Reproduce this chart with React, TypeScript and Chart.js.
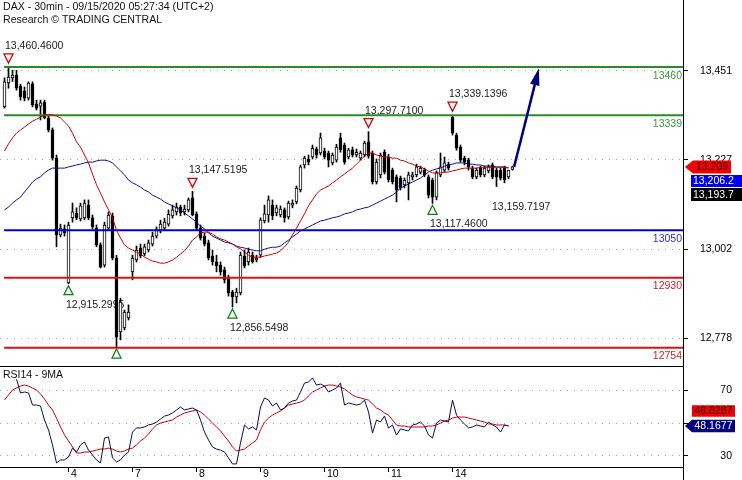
import React, { useEffect, useRef } from 'react';
import { Chart, registerables } from 'chart.js';

Chart.register(...registerables);

// ---------- data ----------
const TITLE = 'DAX - 30min - 09/15/2020 05:27:34 (UTC+2)';
const SUBTITLE = 'Research © TRADING CENTRAL';
const RSI_TITLE = 'RSI14 - 9MA';

const DAY_TICKS = [16, 32, 48, 64, 80, 96, 112];
const DAY_LABELS = ['4', '7', '8', '9', '10', '11', '14'];
const PRICE_TICKS = [12778, 13002, 13227, 13451];
const RSI_TICKS = [30, 50, 70];

const OPEN = [
  13360, 13420, 13433, 13440, 13412, 13400, 13382, 13418, 13367, 13362,
  13372, 13332, 13302, 13231, 13038, 13053, 12917, 13081, 13093, 13078,
  13081, 13113, 13081, 13055, 13013, 12962, 13055, 13086, 12980, 12794,
  12804, 12829, 12945, 12975, 13005, 12990, 13000, 13015, 13035, 13048,
  13055, 13065, 13086, 13096, 13108, 13096, 13101, 13131, 13091, 13055,
  13035, 13018, 12985, 12970, 12962, 12950, 12930, 12894, 12882, 12892,
  12985, 12970, 12987, 12975, 12987, 13073, 13088, 13113, 13093, 13088,
  13101, 13083, 13113, 13121, 13151, 13214, 13229, 13234, 13254, 13244,
  13249, 13244, 13219, 13226, 13282, 13264, 13234, 13252, 13239, 13231,
  13239, 13272, 13244, 13171, 13189, 13246, 13234, 13201, 13184, 13181,
  13164, 13169, 13184, 13189, 13196, 13201, 13184, 13176, 13133, 13189,
  13201, 13216, 13334, 13289, 13259, 13231, 13226, 13206, 13184, 13206,
  13189, 13199, 13214, 13201, 13201, 13206, 13184, 13203,
];
const HIGH = [
  13433, 13460.46, 13452, 13452, 13417, 13410, 13423, 13423, 13377, 13377,
  13377, 13337, 13307, 13239, 13065, 13063, 13070, 13118, 13106, 13118,
  13126, 13126, 13088, 13063, 13018, 13070, 13096, 13093, 12987, 12879,
  12849, 12862, 12987, 13010, 13015, 13015, 13025, 13045, 13058, 13075,
  13080, 13101, 13113, 13118, 13113, 13113, 13131, 13147.52, 13096, 13063,
  13043, 13025, 13000, 12987, 12970, 12957, 12937, 12899, 12904, 12995,
  13000, 13005, 12995, 12987, 13081, 13113, 13136, 13126, 13113, 13111,
  13106, 13123, 13126, 13161, 13214, 13236, 13239, 13264, 13259, 13294,
  13256, 13249, 13244, 13266, 13294, 13269, 13256, 13259, 13254, 13249,
  13274, 13297.71, 13249, 13229, 13244, 13252, 13241, 13206, 13189, 13186,
  13181, 13196, 13196, 13216, 13211, 13206, 13189, 13181, 13199, 13244,
  13234, 13221, 13339.14, 13294, 13264, 13236, 13231, 13211, 13206, 13211,
  13211, 13214, 13219, 13206, 13206, 13211, 13201, 13211,
];
const LOW = [
  13357, 13407, 13424, 13402, 13377, 13375, 13377, 13360, 13352, 13327,
  13330, 13297, 13226, 13008, 13033, 13035, 12915.3, 13070, 13076, 13073,
  13076, 13076, 13053, 13008, 12955, 12957, 13050, 12975, 12756, 12774,
  12799, 12824, 12925, 12970, 12980, 12985, 12995, 13010, 13030, 13043,
  13050, 13060, 13080, 13088, 13086, 13088, 13096, 13086, 13050, 13025,
  13010, 12975, 12962, 12945, 12937, 12917, 12884, 12856.55, 12867, 12887,
  12955, 12962, 12967, 12970, 12982, 13068, 13070, 13076, 13086, 13083,
  13070, 13078, 13106, 13116, 13146, 13206, 13214, 13229, 13231, 13239,
  13229, 13209, 13214, 13221, 13246, 13216, 13229, 13234, 13234, 13226,
  13234, 13231, 13166, 13166, 13181, 13191, 13171, 13166, 13121, 13151,
  13156, 13126, 13176, 13184, 13191, 13184, 13131, 13117.46, 13126, 13184,
  13196, 13201, 13289, 13251, 13221, 13214, 13201, 13179, 13179, 13184,
  13184, 13194, 13179, 13159.72, 13176, 13169, 13179, 13201,
];
const CLOSE = [
  13423, 13435, 13440, 13407, 13385, 13382, 13420, 13365, 13357, 13370,
  13332, 13302, 13231, 13038, 13055, 13043, 13063, 13096, 13081, 13111,
  13118, 13081, 13058, 13013, 12957, 13063, 13088, 12980, 12781, 12869,
  12844, 12844, 12980, 13000, 12985, 13008, 13018, 13035, 13050, 13065,
  13070, 13090, 13101, 13108, 13093, 13103, 13126, 13088, 13055, 13030,
  13015, 12980, 12970, 12960, 12945, 12925, 12892, 12882, 12894, 12987,
  12960, 12995, 12970, 12980, 13076, 13091, 13126, 13086, 13106, 13103,
  13081, 13118, 13118, 13156, 13209, 13231, 13221, 13256, 13239, 13282,
  13234, 13226, 13239, 13259, 13252, 13221, 13252, 13239, 13246, 13244,
  13269, 13236, 13171, 13221, 13239, 13196, 13176, 13171, 13151, 13156,
  13176, 13189, 13189, 13209, 13206, 13189, 13138, 13133, 13194, 13209,
  13219, 13206, 13294, 13256, 13226, 13221, 13209, 13184, 13201, 13189,
  13206, 13209, 13184, 13184, 13181, 13176, 13201, 13209,
];

const MA_RED = [
  13249, 13267, 13282, 13294, 13302, 13309, 13317, 13324, 13329, 13334,
  13340, 13340, 13340, 13337, 13332, 13322, 13312, 13294, 13272, 13259,
  13239, 13219, 13191, 13164, 13143, 13121, 13101, 13081, 13050, 13030,
  13013, 13005, 13000, 12995, 12990, 12982, 12977, 12972, 12970, 12967,
  12967, 12970, 12975, 12982, 12990, 12998, 13010, 13025, 13033, 13043,
  13045, 13045, 13040, 13033, 13028, 13025, 13020, 13015, 13008, 13003,
  12995, 12987, 12982, 12982, 12982, 12985, 12987, 12990, 12992, 12998,
  13008, 13020, 13038, 13055, 13073, 13091, 13111, 13126, 13141, 13151,
  13156, 13161, 13169, 13176, 13184, 13191, 13199, 13206, 13216, 13226,
  13236, 13244, 13244, 13239, 13236, 13234, 13234, 13231, 13231, 13226,
  13224, 13219, 13216, 13211, 13209, 13204, 13199, 13194, 13194, 13194,
  13196, 13196, 13199, 13201, 13204, 13206, 13206, 13206, 13206, 13208,
  13208, 13208, 13208, 13208, 13208, 13208, 13208,
];
const MA_BLUE = [
  13101, 13108, 13118, 13126, 13133, 13146, 13158, 13171, 13179, 13184,
  13194, 13201, 13206, 13206, 13206, 13206, 13209, 13211, 13214, 13216,
  13219, 13221, 13221, 13224, 13226, 13226, 13224, 13219, 13209, 13199,
  13189, 13176, 13169, 13164, 13158, 13151, 13146, 13138, 13133, 13128,
  13121, 13116, 13111, 13106, 13101, 13093, 13086, 13078, 13070, 13060,
  13053, 13043, 13035, 13030, 13025, 13020, 13018, 13015, 13010, 13007,
  13005, 13002, 13000, 12998, 12998, 13002, 13005, 13007, 13007, 13010,
  13018, 13025, 13033, 13040, 13048, 13053, 13058, 13063, 13068, 13073,
  13075, 13078, 13081, 13083, 13086, 13091, 13093, 13096, 13101, 13103,
  13106, 13108, 13113, 13118, 13123, 13128, 13133, 13138, 13146, 13156,
  13161, 13166, 13171, 13176, 13181, 13189, 13196, 13201, 13204, 13206,
  13211, 13214, 13216, 13219, 13219, 13219, 13216, 13216, 13214, 13214,
  13211, 13211, 13211, 13209, 13209, 13209, 13206,
];

const RSI = [
  null, null, null, 76.5, 68.2, 68.8, 68.2, 60.9, 60.9, 60.3,
  51.8, 45.8, 36.7, 25.8, 27.6, 27.6, 29.4, 34.8, 32.4, 36.7,
  38.5, 33.6, 30.6, 27.6, 25.8, 40.9, 41.5, 28.8, 26.4, 27.6,
  30.6, 32.4, 44.5, 47.0, 47.0, 47.6, 48.8, 49.4, 50.6, 52.4,
  54.2, 54.8, 56.1, 57.9, 59.7, 57.9, 58.5, 59.1, 57.9, 51.8,
  44.5, 39.7, 35.5, 34.2, 33.6, 32.4, 28.8, 25.2, 25.2, 37.9,
  48.8, 46.4, 47.6, 45.8, 59.7, 65.2, 63.9, 60.3, 62.1, 57.9,
  59.1, 62.1, 63.3, 63.9, 68.8, 74.2, 74.8, 77.3, 73.0, 73.6,
  72.4, 68.8, 70.0, 71.2, 74.2, 60.9, 62.1, 61.5, 60.9, 61.5,
  63.9, 56.7, 43.9, 51.8, 50.6, 54.2, 47.0, 48.8, 42.7, 46.4,
  45.8, 45.2, 48.8, 49.4, 50.6, 48.2, 42.7, 40.9, 50.0, 51.8,
  51.2, 50.6, 63.9, 54.8, 51.8, 49.4, 47.0, 47.6, 48.8, 48.2,
  47.6, 50.6, 48.8, 47.6, 44.5, 48.8, 48.2,
];
const RSI_MA = [
  63.9, 67.0, 70.0, 71.2, 72.4, 73.0, 72.4, 71.2, 70.0, 67.6,
  64.5, 60.9, 57.9, 53.0, 47.6, 42.7, 39.1, 35.5, 31.8, 31.8,
  32.4, 32.4, 33.0, 33.6, 34.2, 34.2, 34.8, 34.2, 33.0, 32.4,
  33.0, 34.2, 34.8, 36.7, 39.1, 40.9, 43.3, 46.4, 48.8, 50.0,
  50.6, 51.2, 51.8, 53.6, 54.8, 56.1, 56.7, 57.3, 57.9, 56.7,
  54.8, 52.4, 50.0, 47.6, 45.2, 42.1, 39.1, 35.5, 33.0, 33.6,
  34.2, 36.1, 37.9, 39.7, 45.8, 50.6, 53.0, 54.8, 56.1, 57.3,
  59.1, 60.9, 61.5, 62.1, 62.7, 63.9, 66.4, 68.8, 70.0, 71.2,
  72.4, 73.0, 73.0, 72.4, 71.8, 70.6, 68.8, 67.0, 65.8, 65.2,
  64.5, 63.9, 61.5, 59.1, 57.9, 56.1, 54.8, 51.8, 48.8, 48.2,
  48.2, 47.6, 47.6, 47.6, 47.6, 47.6, 48.2, 48.2, 48.8, 50.0,
  51.2, 51.8, 53.0, 53.6, 53.6, 53.6, 53.0, 52.4, 51.8, 51.2,
  50.6, 49.4, 49.4, 48.8, 48.8, 48.8, 48.2,
];

const LEVELS = [13460, 13339, 13050, 12930, 12754];

const HIGH_MARK_IDX = [1, 47, 91, 112];
const HIGH_MARK_VAL = [13460.46, 13147.5195, 13297.71, 13339.1396];
const HIGH_MARK_TEXT = ['13,460.4600', '13,147.5195', '13,297.7100', '13,339.1396'];

const LOW_MARK_IDX = [16, 28, 57, 107];
const LOW_MARK_VAL = [12915.2995, 12756, 12856.5498, 13117.46];
const LOW_MARK_TEXT = ['12,915.2995', '', '12,856.5498', '13,117.4600'];

const LOW_NOTE_IDX = [123];
const LOW_NOTE_VAL = [13159.7197];
const LOW_NOTE_TEXT = ['13,159.7197'];

const ARROW_X = [127.4, 133.6];
const ARROW_Y = [13209, 13457];

const LAST_PRICE = 13209;
const LAST_PRICE_TEXT = '13,209';
const MA_BLUE_LAST_TEXT = '13,206.2';
const MA_RED_LAST_TEXT = '13,193.7';
const RSI_LAST = 48.1677;
const RSI_LAST_TEXT = '48.1677';
const RSI_MA_LAST_TEXT = '48.8287';

// ---------- view constants ----------
const X_MIN = -1.125;
const X_MAX = 169.625;
const LEVEL_START = -0.1;
const Y_MIN = 12708.3;
const Y_MAX = 13628.8;
const RSI_MIN = 23.33;
const RSI_MAX = 84.55;
const FONT = '"Liberation Sans", Arial, Helvetica, sans-serif';

export default function App() {
  const ref = useRef<HTMLCanvasElement | null>(null);

  useEffect(() => {
    const canvas = ref.current;
    if (!canvas) return;

    const idx = OPEN.map((_, i) => i);
    const wicks = idx.map((i) => ({ x: i, y: [LOW[i], HIGH[i]] }));
    const bodies = idx.map((i) => ({ x: i, y: [OPEN[i], CLOSE[i]] }));
    const bodyColors = idx.map((i) => (CLOSE[i] >= OPEN[i] ? '#ffffff' : '#000000'));
    const series = (arr: (number | null)[]) => arr.map((v, i) => ({ x: i, y: v }));

    const levelLine = ['#2b8a2b', '#2b8a2b', '#0000d4', '#e01010', '#e01010'];
    const levelText = ['#3c963c', '#3c963c', '#3232c8', '#d42020', '#d42020'];

    const levelSets = LEVELS.map((lv, k) => ({
      type: 'line',
      data: [
        { x: LEVEL_START, y: lv },
        { x: X_MAX, y: lv },
      ],
      borderColor: levelLine[k],
      borderWidth: 2,
      pointRadius: 0,
      yAxisID: 'y',
      order: 1,
    }));

    const tri = (ctx: CanvasRenderingContext2D, cx: number, cy: number, up: boolean, color: string) => {
      const hw = 4.5;
      const hh = 4.5;
      ctx.beginPath();
      if (up) {
        ctx.moveTo(cx, cy - hh);
        ctx.lineTo(cx + hw, cy + hh);
        ctx.lineTo(cx - hw, cy + hh);
      } else {
        ctx.moveTo(cx - hw, cy - hh);
        ctx.lineTo(cx + hw, cy - hh);
        ctx.lineTo(cx, cy + hh);
      }
      ctx.closePath();
      ctx.strokeStyle = color;
      ctx.lineWidth = 1.3;
      ctx.stroke();
    };

    const overlay = {
      id: 'overlay',
      beforeDatasetsDraw(chart: any) {
        const { ctx } = chart;
        const xs = chart.scales.x;
        const ys = chart.scales.y;
        ctx.save();
        ctx.beginPath();
        ctx.rect(0, ys.top, xs.right, ys.bottom - ys.top);
        ctx.clip();
        ctx.font = `10.5px ${FONT}`;
        ctx.textBaseline = 'middle';
        ctx.textAlign = 'left';
        HIGH_MARK_IDX.forEach((i, k) => {
          const px = xs.getPixelForValue(i);
          const py = ys.getPixelForValue(HIGH_MARK_VAL[k]);
          tri(ctx, px, py - 8.5, false, '#d00000');
          ctx.fillStyle = '#1a1a1a';
          ctx.fillText(HIGH_MARK_TEXT[k], px - 3.5, py - 21);
        });
        LOW_MARK_IDX.forEach((i, k) => {
          const px = xs.getPixelForValue(i);
          const py = ys.getPixelForValue(LOW_MARK_VAL[k]);
          tri(ctx, px, py + 6.5, true, '#108010');
          if (LOW_MARK_TEXT[k]) {
            ctx.fillStyle = '#1a1a1a';
            ctx.fillText(LOW_MARK_TEXT[k], px - 2.5, py + 21);
          }
        });
        LOW_NOTE_IDX.forEach((i, k) => {
          const px = xs.getPixelForValue(i);
          const py = ys.getPixelForValue(LOW_NOTE_VAL[k]);
          ctx.fillStyle = '#1a1a1a';
          ctx.fillText(LOW_NOTE_TEXT[k], px - 4.5, py + 20.5);
        });
        ctx.restore();
      },
      afterDraw(chart: any) {
        const { ctx } = chart;
        const xs = chart.scales.x;
        const ys = chart.scales.y;
        const rs = chart.scales.rsi;
        ctx.save();

        // level labels
        ctx.font = `10.5px ${FONT}`;
        ctx.textBaseline = 'middle';
        ctx.textAlign = 'right';
        LEVELS.forEach((lv, k) => {
          const py = ys.getPixelForValue(lv);
          ctx.fillStyle = levelText[k];
          ctx.fillText(String(lv), xs.right - 1, py + 8.5);
        });

        // arrow
        const x0 = xs.getPixelForValue(ARROW_X[0]);
        const y0 = ys.getPixelForValue(ARROW_Y[0]);
        const x1 = xs.getPixelForValue(ARROW_X[1]);
        const y1 = ys.getPixelForValue(ARROW_Y[1]);
        const ang = Math.atan2(y1 - y0, x1 - x0);
        const hl = 17;
        const hw = 4.8;
        const bx = x1 - hl * Math.cos(ang);
        const by = y1 - hl * Math.sin(ang);
        ctx.strokeStyle = '#000080';
        ctx.lineWidth = 2.5;
        ctx.beginPath();
        ctx.moveTo(x0, y0);
        ctx.lineTo(bx + 1 * Math.cos(ang), by + 1 * Math.sin(ang));
        ctx.stroke();
        ctx.fillStyle = '#000080';
        ctx.beginPath();
        ctx.moveTo(x1, y1);
        ctx.lineTo(bx + hw * Math.sin(ang), by - hw * Math.cos(ang));
        ctx.lineTo(bx - hw * Math.sin(ang), by + hw * Math.cos(ang));
        ctx.closePath();
        ctx.fill();

        // frame
        const ax = Math.round(xs.right) + 0.5;
        const sep = Math.round(ys.bottom) + 0.5;
        const bot = Math.round(rs.bottom) + 0.5;
        ctx.strokeStyle = '#000';
        ctx.lineWidth = 1;
        ctx.beginPath();
        ctx.moveTo(ax, 0);
        ctx.lineTo(ax, chart.height);
        ctx.moveTo(0, sep);
        ctx.lineTo(ax, sep);
        ctx.moveTo(0, bot);
        ctx.lineTo(ax, bot);
        ctx.stroke();

        // titles
        ctx.textAlign = 'left';
        ctx.fillStyle = '#111';
        ctx.font = `10.6px ${FONT}`;
        ctx.fillText(TITLE, 3, 7.5);
        ctx.fillText(SUBTITLE, 3, 20);
        ctx.font = `10.5px ${FONT}`;
        ctx.fillText(RSI_TITLE, 3, rs.top + 9);

        // value boxes
        const box = (
          left: number, right: number, cy: number, h: number, bg: string, fg: string,
          text: string, arrowTip: number | null, align: 'center' | 'left'
        ) => {
          ctx.fillStyle = bg;
          ctx.beginPath();
          ctx.moveTo(left, cy - h / 2);
          ctx.lineTo(right, cy - h / 2);
          ctx.lineTo(right, cy + h / 2);
          ctx.lineTo(left, cy + h / 2);
          if (arrowTip !== null) ctx.lineTo(arrowTip, cy);
          ctx.closePath();
          ctx.fill();
          ctx.fillStyle = fg;
          ctx.textAlign = align;
          ctx.fillText(text, align === 'center' ? (left + right) / 2 : left + 2, cy + 0.5);
        };
        ctx.font = `10.5px ${FONT}`;
        ctx.textBaseline = 'middle';
        const pc = ys.getPixelForValue(LAST_PRICE);
        box(693, 731, pc, 13, '#f00000', '#3a0000', LAST_PRICE_TEXT, 685, 'center');
        box(691, 745, pc + 14, 12, '#0000f0', '#ffffff', MA_BLUE_LAST_TEXT, null, 'left');
        box(691, 745, pc + 27.5, 13, '#000000', '#ffffff', MA_RED_LAST_TEXT, null, 'left');
        const rc = rs.getPixelForValue(RSI_LAST);
        box(692, 735, rc - 15, 11.5, '#f00000', '#3a0000', RSI_MA_LAST_TEXT, null, 'center');
        box(692, 735, rc, 12.5, '#000080', '#ffffff', RSI_LAST_TEXT, 685, 'center');

        ctx.restore();
      },
    };

    const tickFont = { family: FONT, size: 10.5 };

    const chart = new Chart(canvas, {
      data: {
        datasets: [
          {
            type: 'line',
            data: series(MA_RED),
            borderColor: '#c80000',
            borderWidth: 1,
            pointRadius: 0,
            yAxisID: 'y',
            order: 0,
          },
          {
            type: 'line',
            data: series(MA_BLUE),
            borderColor: '#101090',
            borderWidth: 1,
            pointRadius: 0,
            yAxisID: 'y',
            order: 0,
          },
          ...levelSets,
          {
            type: 'bar',
            data: bodies,
            backgroundColor: bodyColors,
            borderColor: '#000',
            borderWidth: 1,
            borderSkipped: false,
            barThickness: 3,
            grouped: false,
            yAxisID: 'y',
            order: 2,
          },
          {
            type: 'bar',
            data: wicks,
            backgroundColor: '#000',
            borderWidth: 0,
            barThickness: 1,
            grouped: false,
            yAxisID: 'y',
            order: 3,
          },
          {
            type: 'line',
            data: series(RSI),
            borderColor: '#0a0a5a',
            borderWidth: 1,
            pointRadius: 0,
            spanGaps: false,
            yAxisID: 'rsi',
            order: 0,
          },
          {
            type: 'line',
            data: series(RSI_MA),
            borderColor: '#c80000',
            borderWidth: 1,
            pointRadius: 0,
            yAxisID: 'rsi',
            order: 0,
          },
        ] as any,
      },
      options: {
        responsive: false,
        animation: false,
        events: [],
        layout: { padding: { top: 0, right: 10, bottom: 0, left: 0 } },
        plugins: {
          legend: { display: false },
          tooltip: { enabled: false },
          title: { display: false },
        },
        scales: {
          x: {
            type: 'linear',
            position: 'bottom',
            min: X_MIN,
            max: X_MAX,
            bounds: 'data',
            offset: false,
            grid: {
              offset: false,
              drawOnChartArea: false,
              drawTicks: true,
              tickLength: 5,
              color: '#000',
              tickColor: '#000',
              tickBorderDash: [],
            },
            border: { display: false },
            ticks: {
              autoSkip: false,
              maxRotation: 0,
              align: 'start',
              labelOffset: 2.5,
              padding: -4,
              color: '#000',
              font: tickFont,
              callback: (v: any) => {
                const k = DAY_TICKS.indexOf(Number(v));
                return k >= 0 ? DAY_LABELS[k] : '';
              },
            },
            afterBuildTicks: (s: any) => {
              s.ticks = DAY_TICKS.map((v) => ({ value: v }));
            },
            afterFit: (s: any) => {
              s.height = 13;
              s.paddingLeft = 0;
              s.paddingRight = 0;
            },
          },
          y: {
            type: 'linear',
            position: 'right',
            stack: 'panes',
            stackWeight: 366,
            min: Y_MIN,
            max: Y_MAX,
            bounds: 'data',
            grid: {
              color: '#a8a8a8',
              tickColor: '#000',
              tickLength: 5,
              tickBorderDash: [],
              drawTicks: true,
            },
            border: { display: false, dash: [1, 6] },
            ticks: {
              crossAlign: 'far',
              padding: 0,
              color: '#000',
              font: tickFont,
              callback: (v: any) => Number(v).toLocaleString('en-US'),
            },
            afterBuildTicks: (s: any) => {
              s.ticks = PRICE_TICKS.map((v) => ({ value: v }));
            },
            afterFit: (s: any) => {
              s.width = 49;
              s.paddingTop = 0;
              s.paddingBottom = 0;
            },
          },
          rsi: {
            type: 'linear',
            position: 'right',
            stack: 'panes',
            stackWeight: 101,
            min: RSI_MIN,
            max: RSI_MAX,
            bounds: 'data',
            grid: {
              color: '#a8a8a8',
              tickColor: '#000',
              tickLength: 5,
              tickBorderDash: [],
              drawTicks: true,
            },
            border: { display: false, dash: [1, 6] },
            ticks: {
              crossAlign: 'far',
              padding: 0,
              color: '#000',
              font: tickFont,
              callback: (v: any) => (Number(v) === 50 ? '' : String(v)),
            },
            afterBuildTicks: (s: any) => {
              s.ticks = RSI_TICKS.map((v) => ({ value: v }));
            },
            afterFit: (s: any) => {
              s.width = 49;
              s.paddingTop = 0;
              s.paddingBottom = 0;
            },
          },
        } as any,
      },
      plugins: [overlay],
    } as any);

    return () => chart.destroy();
  }, []);

  return (
    <div style={{ position: 'fixed', left: 0, top: 0, width: 742, height: 480, background: '#fff' }}>
      <canvas ref={ref} width={742} height={480} style={{ display: 'block', width: 742, height: 480 }} />
    </div>
  );
}
